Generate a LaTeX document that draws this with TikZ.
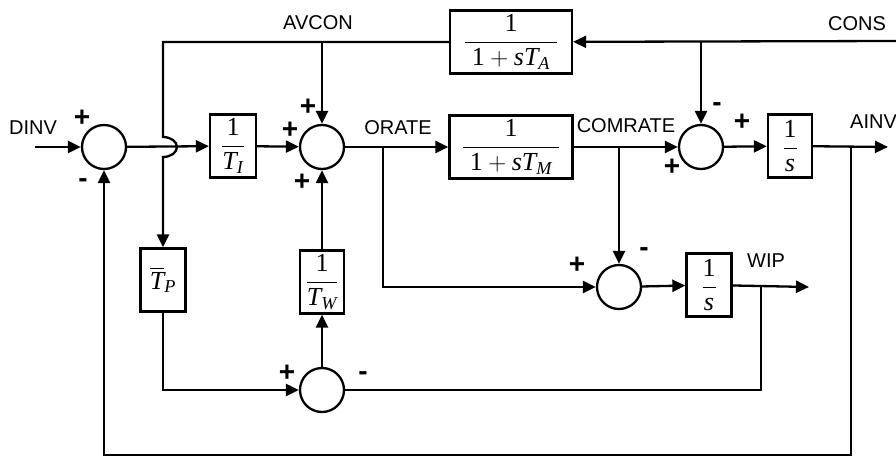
\documentclass[tikz,border=0pt]{standalone}
\usepackage{amsmath}
\usepackage{fontspec}
\setmainfont{Liberation Serif}
\setsansfont{Liberation Sans}
\usepackage{tikz}
\usetikzlibrary{arrows.meta}
\newcommand{\tv}[1]{\textit{#1}}
\newcommand{\Tsub}[1]{\tv{T}_{\tv{#1}}}

\begin{document}
\begin{tikzpicture}[x=1pt,y=-1pt,line width=2.3pt,>={Triangle[length=13pt,width=12pt]},
  blk/.style={draw,inner sep=0pt,minimum height=63pt,minimum width=#1,font=\fontsize{26}{29}\selectfont},blk/.default=45pt,
  sumj/.style={draw,circle,minimum size=44pt,inner sep=0pt},
  lbl/.style={font=\fontsize{20}{22}\sffamily\selectfont,inner sep=0pt},
  sgn/.style={font=\fontsize{28}{30}\sffamily\bfseries\selectfont,inner sep=0pt}]
  \useasboundingbox (0,0) rectangle (896,457);
  \node[sumj] (S1) at (104,147) {};
  \node[blk=46pt] (TI) at (233,146) {$\dfrac{\text{1}}{\Tsub{I}}$};
  \node[sumj] (S2) at (322,147) {};
  \node[blk=122pt] (TA) at (511,42) {$\dfrac{\text{1}}{\;\text{1}+\tv{s}\Tsub{A}\;}$};
  \node[blk=123pt] (TM) at (511,147) {$\dfrac{\text{1}}{\;\text{1}+\tv{s}\Tsub{M}\;}$};
  \node[sumj] (S3) at (701,147) {};
  \node[blk=44pt] (IA) at (790,146) {$\dfrac{\text{1}}{\tv{s}}$};
  \node[sumj] (S4) at (619,287) {};
  \node[blk] (IW) at (709,285) {$\dfrac{\text{1}}{\tv{s}}$};
  \node[blk] (TP) at (163,280) {$\overline{\tv{T}}_{\tv{P}}$};
  \node[blk=44pt] (TW) at (322,282) {$\dfrac{\text{1}}{\Tsub{W}}$};
  \node[sumj] (S5) at (322,390) {};
  \coordinate (DI) at (35,147);
  \coordinate (CO) at (896,41);
  \coordinate (AO) at (888,147);
  \coordinate (WO) at (809,287);
  \coordinate (OB) at (383,147);
  \coordinate (AB) at (851,147);
  \coordinate (WB) at (761,287);
  \coordinate (BL) at (104,455);
  % forward path
  \draw[->] (DI) -- (S1);
  \draw[->] (S1) -- (TI);
  \draw[->] (TI) -- (S2);
  \draw[->] (S2) -- (TM);
  \draw[->] (TM) -- (S3);
  \draw[->] (S3) -- (IA);
  \draw[->] (IA) -- (AO);
  % consumption and its average
  \draw[->] (CO) -- (TA);
  \draw[->] (TA.east -| S3) -- (S3);
  \draw[->] (TA.west) -- (TA.west -| TP) -- ([yshift=10pt]S1 -| TP)
     arc[start angle=90,end angle=-90,x radius=14pt,y radius=10pt] -- (TP);
  \draw[->] (TA.west -| S2) -- (S2);
  % wip loop
  \draw[->] (OB) |- (S4);
  \draw[->] (TM.east -| S4) -- (S4);
  \draw[->] (S4) -- (IW);
  \draw[->] (IW) -- (WO);
  \draw (WB) |- (S5);
  \draw[->] (TP) |- (S5);
  \draw[->] (S5) -- (TW);
  \draw[->] (TW) -- (S2);
  % inventory feedback
  \draw[->] (AB) |- (BL) -- (S1);
  % labels
  \node[lbl] (LDI) at (33,128) {DINV};
  \node[lbl] (LAV) at (318,23) {AVCON};
  \node[lbl] (LOR) at (398,128) {ORATE};
  \node[lbl] (LCM) at (626,126) {COMRATE};
  \node[lbl] (LCO) at (857,24) {CONS};
  \node[lbl,anchor=west] (LAI) at (849,122) {AINV};
  \node[lbl] (LWI) at (766,261) {WIP};
  % signs
  \node[sgn] (P1) at (82,118) {+};
  \node[sgn] (M1) at (83,183) {-};
  \node[sgn] (P2a) at (308,107) {+};
  \node[sgn] (P2b) at (290,130) {+};
  \node[sgn] (P2c) at (302,182) {+};
  \node[sgn] (M3) at (717,107) {-};
  \node[sgn] (P3a) at (672,167) {+};
  \node[sgn] (P3b) at (742,122) {+};
  \node[sgn] (P4) at (577,265) {+};
  \node[sgn] (M4) at (644,252) {-};
  \node[sgn] (P5) at (287,373) {+};
  \node[sgn] (M5) at (363,376) {-};
\end{tikzpicture}
\end{document}
